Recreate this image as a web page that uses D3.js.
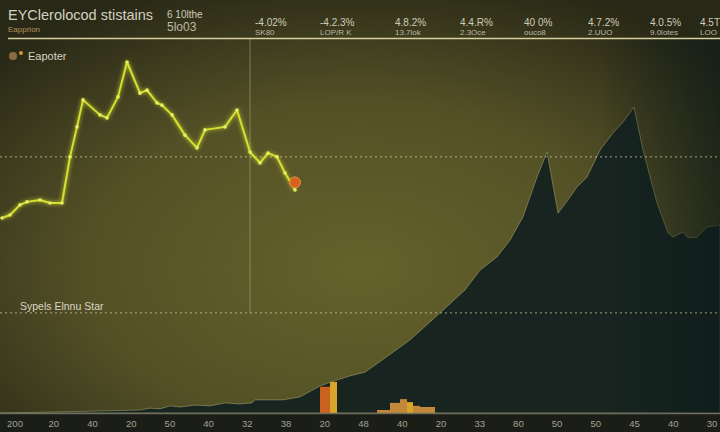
<!DOCTYPE html>
<html><head><meta charset="utf-8">
<script src="https://cdn.jsdelivr.net/npm/d3@7"></script>
<style>html,body{margin:0;padding:0;background:#1b1d19;overflow:hidden}svg{display:block}text{font-family:"Liberation Sans","DejaVu Sans",sans-serif}</style>
</head><body><svg id="c" width="720" height="432"></svg>
<script>
// ---- data ----
const titleText = "EYClerolocod stistains";
const subtitleText = "Eapprion";
const legendLabel = "Eapoter";
const refLabel = "Sypels Elnnu Star";
const statTop = ["6 10lthe","-4.02%","-4.2.3%","4.8.2%","4.4.R%","40 0%","4.7.2%","4.0.5%","4.5T"];
const statBottom = ["5lo03","SK80","LOP/R K","13.7lok","2.3Oce","ouco8","2.UUO","9.0lotes","LOO"];
const statPos = [167,255,320,395,460,524,588,650,700];
const tickLabels = ["200","20","40","20","50","40","32","38","20","48","40","20","33","80","50","50","45","40","30"];
// line series: [x, value]
const lineX = [0.5,2.5,5,6.75,10,12.5,15.5,17.5,19.25,20.75,25,26.75,29.5,31.75,35,36.75,39.25,40.5,43,46.25,49.25,51.25,56.25,59.25,62.5,65,67,69.25,71.25,73.75];
const lineV = [52,52.8,55.5,56.3,56.8,56,56,68.3,76.3,83.5,79.5,78.7,84.3,93.6,85.3,86.1,82.7,82.1,79.5,74.1,70.7,75.5,76.3,80.8,69.6,66.7,69.3,68.3,64,59.5];
const lastPoint = [73.75, 61.5];
// area series
const areaX = [0,15,35,37.5,40,42.5,45,48.75,52.5,56.25,60,63,63.75,70.75,75,80,84.25,87.5,91.25,95.5,102.5,110,116.25,120,124.25,127.5,130.75,134.25,136.75,139.5,140.5,142.5,144.25,146.75,150,153.25,155.75,158.5,160.75,164.25,167,168.25,170.75,172,174.25,176.75,180];
const areaV = [0,0.3,0.8,1.3,1.1,1.9,1.6,2.1,1.9,2.7,2.4,2.7,3.5,3.5,4.3,7.2,8.8,9.9,10.9,14.1,19.5,26.7,32.8,38.1,41.6,46.1,52.3,62.9,69.6,53.3,54.7,57.6,60.3,62.9,70.1,74.7,77.6,81.6,70.1,56,48,46.9,48.3,46.7,46.9,49.6,50.1];
// bars: start, end, value, colour group
const barStart = [80,82.5,94.25,97.5,100,101.75,103.25,105];
const barEnd   = [82.5,84.25,97.5,100,101.75,103.25,105,108.75];
const barVal   = [7,8.3,0.8,2.7,3.7,2.9,1.9,1.6];
const barKind  = ["o","y","t","t","t","y","t","t"];
const refLines = [68.3, 26.7];
const markerX = 62.5;

// ---- chart ----
const W=720,H=432;
const svg=d3.select("#c");
const x=d3.scaleLinear().domain([0,180]).range([0,720]);
const y=d3.scaleLinear().domain([0,100]).range([413,38]);
const tx=d3.scalePoint().domain(d3.range(tickLabels.length)).range([15,712]);
const defs=svg.append("defs");
const bg=defs.append("radialGradient").attr("id","bg").attr("cx","0.5").attr("cy","0.62").attr("r","0.7");
bg.append("stop").attr("offset","0").attr("stop-color","#66622b");
bg.append("stop").attr("offset","0.55").attr("stop-color","#535026");
bg.append("stop").attr("offset","1").attr("stop-color","#282816");
const rd=defs.append("linearGradient").attr("id","rd").attr("x1","0").attr("x2","1");
rd.append("stop").attr("offset","0").attr("stop-color","#0c1a18").attr("stop-opacity",0);
rd.append("stop").attr("offset","1").attr("stop-color","#0c1a18").attr("stop-opacity",0.6);
const gl=defs.append("filter").attr("id","glow").attr("x","-20%").attr("y","-20%").attr("width","140%").attr("height","140%");
gl.append("feGaussianBlur").attr("stdDeviation",2).attr("result","b");
const fm=gl.append("feMerge");fm.append("feMergeNode").attr("in","b");fm.append("feMergeNode").attr("in","SourceGraphic");

svg.append("rect").attr("width",W).attr("height",H).attr("fill","url(#bg)");
// area
const areaData=areaX.map((d,i)=>[d,areaV[i]]);
svg.append("path").datum(areaData).attr("fill","#172420").attr("stroke","#b0ad7a").attr("stroke-opacity",0.55).attr("stroke-width",0.9)
  .attr("d",d3.area().x(d=>x(d[0])).y0(y(0)).y1(d=>y(d[1])));
svg.append("rect").attr("x",x(150)).attr("y",y(100)).attr("width",x(180)-x(150)).attr("height",y(0)-y(100)).attr("fill","url(#rd)");
// bars
const barCol={o:"#c8621e",y:"#d8a52a",t:"#c4883a"};
svg.selectAll("rect.bar").data(barStart.map((d,i)=>i)).join("rect").attr("class","bar")
  .attr("x",i=>x(barStart[i])).attr("width",i=>x(barEnd[i])-x(barStart[i]))
  .attr("y",i=>y(barVal[i])).attr("height",i=>y(0)-y(barVal[i])).attr("fill",i=>barCol[barKind[i]]);
// ref lines
svg.selectAll("line.ref").data(refLines).join("line").attr("class","ref")
  .attr("x1",0).attr("x2",W).attr("y1",d=>y(d)).attr("y2",d=>y(d))
  .attr("stroke","#d8d4a8").attr("stroke-opacity",0.7).attr("stroke-width",1).attr("stroke-dasharray","2,3");
svg.append("line").attr("x1",x(markerX)).attr("x2",x(markerX)).attr("y1",y(100)).attr("y2",y(26.7))
  .attr("stroke","#a8a47a").attr("stroke-opacity",0.6).attr("stroke-width",1);
// bottom strip and axis
svg.append("rect").attr("x",0).attr("y",y(0)).attr("width",W).attr("height",H-y(0)).attr("fill","#1b1d19");
svg.append("line").attr("x1",0).attr("x2",W).attr("y1",y(0)+0.5).attr("y2",y(0)+0.5).attr("stroke","#6e6e5a").attr("stroke-width",1.5);
svg.selectAll("text.tick").data(tickLabels).join("text").attr("class","tick")
  .attr("x",(d,i)=>tx(i)).attr("y",427).attr("text-anchor","middle").attr("font-size",9.5).attr("fill","#a4a290").text(d=>d);
// line
const lineData=lineX.map((d,i)=>[d,lineV[i]]);
svg.append("path").datum(lineData).attr("fill","none").attr("stroke","#d6e030").attr("stroke-width",2).attr("stroke-linejoin","round")
  .attr("filter","url(#glow)").attr("d",d3.line().x(d=>x(d[0])).y(d=>y(d[1])));
svg.selectAll("circle.pt").data(lineData).join("circle").attr("class","pt")
  .attr("cx",d=>x(d[0])).attr("cy",d=>y(d[1])).attr("r",1.8).attr("fill","#e6ee60");
svg.append("circle").attr("cx",x(lastPoint[0])).attr("cy",y(lastPoint[1])).attr("r",5.5).attr("fill","#d4621e").attr("stroke","#e89040").attr("stroke-width",1);
// header
svg.append("line").attr("x1",8).attr("x2",W).attr("y1",38.5).attr("y2",38.5).attr("stroke","#d6cfa0").attr("stroke-width",1.5);
svg.append("text").attr("x",8).attr("y",20).attr("font-size",14.5).attr("fill","#d2d0c0").text(titleText);
svg.append("text").attr("x",8).attr("y",32).attr("font-size",8).attr("fill","#b8905a").text(subtitleText);
statTop.forEach((s,i)=>{
  const big=i===0;
  svg.append("text").attr("x",statPos[i]).attr("y",big?18:26).attr("font-size",10).attr("fill","#cfccb8").text(s);
  svg.append("text").attr("x",statPos[i]).attr("y",big?31:35).attr("font-size",big?12:8).attr("fill","#bcb9a4").text(statBottom[i]);
});
// legend
svg.append("circle").attr("cx",13).attr("cy",56).attr("r",4).attr("fill","#8a6c42");
svg.append("circle").attr("cx",21).attr("cy",53).attr("r",2).attr("fill","#d8962e");
svg.append("text").attr("x",28).attr("y",60).attr("font-size",11).attr("fill","#d4d2c2").text(legendLabel);
svg.append("text").attr("x",20).attr("y",310).attr("font-size",10.5).attr("fill","#d8d6c4").text(refLabel);
</script></body></html>
